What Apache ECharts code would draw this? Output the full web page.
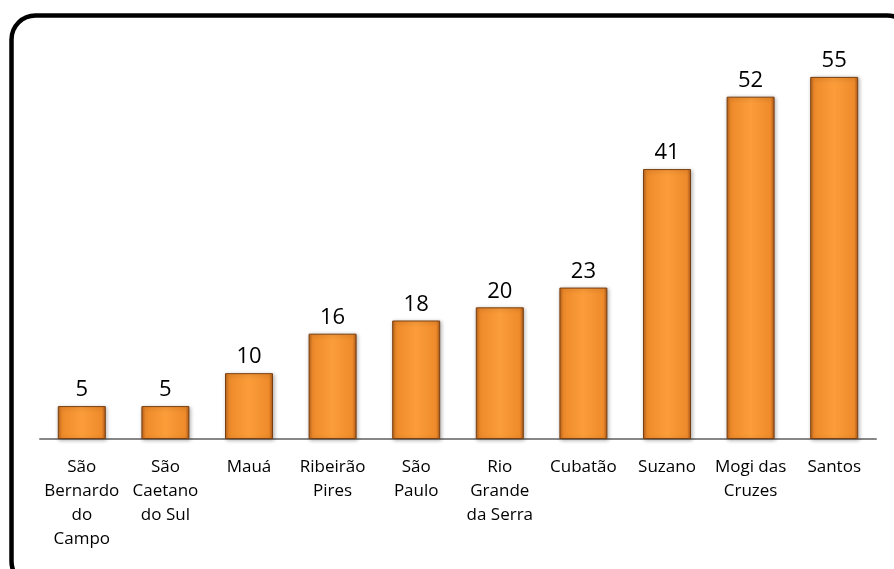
<!DOCTYPE html>
<html><head><meta charset="utf-8">
<script src="https://cdn.jsdelivr.net/npm/echarts@6/dist/echarts.min.js"></script>
<style>html,body{margin:0;padding:0;background:#fff}#c{width:894px;height:569px}</style>
</head><body><div id="c"></div>
<script>
const categories = ["São\nBernardo\ndo\nCampo", "São\nCaetano\ndo Sul", "Mauá", "Ribeirão\nPires", "São\nPaulo", "Rio\nGrande\nda Serra", "Cubatão", "Suzano", "Mogi das\nCruzes", "Santos"];
const values = [5, 5, 10, 16, 18, 20, 23, 41, 52, 55];

const chart = echarts.init(document.getElementById('c'), null, {renderer: 'canvas'});
const barColor = new echarts.graphic.LinearGradient(0, 0, 1, 0, [
  {offset: 0, color: '#b9641c'},
  {offset: 0.08, color: '#ee8a2a'},
  {offset: 0.5, color: '#fb9d3a'},
  {offset: 0.92, color: '#ee8a2a'},
  {offset: 1, color: '#a9581a'}
]);
chart.setOption({
  animation: false,
  graphic: [{
    type: 'rect', left: 9, top: 13, z: 100, silent: true,
    shape: {x: 0, y: 0, width: 900, height: 570, r: 24},
    style: {fill: 'none', stroke: '#000', lineWidth: 4.5}
  }],
  grid: {left: 40, right: 18, top: 44, bottom: 130},
  xAxis: {
    type: 'category', data: categories,
    axisLine: {lineStyle: {color: '#878787', width: 2}},
    axisTick: {show: false},
    axisLabel: {interval: 0, color: '#000', fontFamily: 'Open Sans', fontSize: 17, lineHeight: 24, margin: 16}
  },
  yAxis: {type: 'value', min: 0, max: 60, show: false, splitLine: {show: false}},
  series: [{
    type: 'bar', data: values, barWidth: 48,
    itemStyle: {color: barColor, borderColor: '#7a3f10', borderWidth: 1,
      shadowColor: 'rgba(0,0,0,0.3)', shadowBlur: 4, shadowOffsetX: 1, shadowOffsetY: 1},
    label: {show: true, position: 'top', distance: 5, color: '#000', fontFamily: 'Open Sans', fontSize: 22}
  }]
});
</script></body></html>
